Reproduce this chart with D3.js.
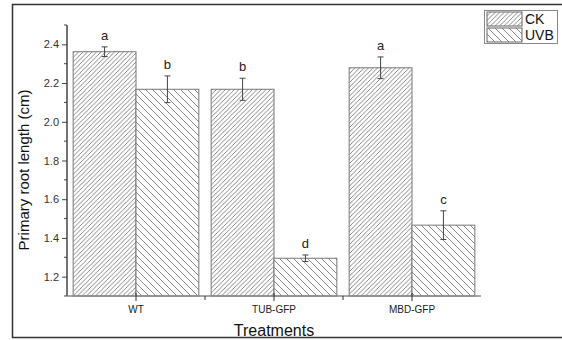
<!DOCTYPE html>
<html><head><meta charset="utf-8">
<script src="https://cdn.jsdelivr.net/npm/d3@7"></script>
<style>body{margin:0;background:#fff}svg{display:block;font-family:"Liberation Sans",Arial,sans-serif}</style>
</head><body><svg id="c" width="562" height="340"></svg>
<script>
const categories = ["WT", "TUB-GFP", "MBD-GFP"];
const series = ["CK", "UVB"];
const ckValues = [2.362, 2.168, 2.279];
const ckErrors = [0.025, 0.057, 0.056];
const uvbValues = [2.168, 1.295, 1.466];
const uvbErrors = [0.069, 0.017, 0.074];
const ckLetters = ["a", "b", "a"];
const uvbLetters = ["b", "d", "c"];
const yTicks = [1.2, 1.4, 1.6, 1.8, 2.0, 2.2, 2.4];
const yMinorTicks = [1.1, 1.3, 1.5, 1.7, 1.9, 2.1, 2.3, 2.5];

(function(){
const svg = d3.select("#c");
const defs = svg.append("defs");
function hatch(id, w, dir) {
  const p = defs.append("pattern").attr("id", id).attr("patternUnits", "userSpaceOnUse")
    .attr("width", w).attr("height", w);
  p.append("rect").attr("width", w).attr("height", w).attr("fill", "#fff");
  const d = dir > 0
    ? `M0,${w} L${w},0 M${-w/2},${w/2} L${w/2},${-w/2} M${w/2},${w*1.5} L${w*1.5},${w/2}`
    : `M0,0 L${w},${w} M${-w/2},${w/2} L${w/2},${w*1.5} M${w/2},${-w/2} L${w*1.5},${w/2}`;
  p.append("path").attr("d", d).attr("stroke", "#7a7a7a").attr("stroke-width", 0.9);
}
hatch("hCK", 4.5, 1);
hatch("hUVB", 7, -1);
const fills = {CK: "url(#hCK)", UVB: "url(#hUVB)"};

svg.append("rect").attr("x", 12.5).attr("y", 4.5).attr("width", 552).attr("height", 333)
  .attr("fill", "none").attr("stroke", "#333").attr("stroke-width", 1.5);

const pL = 67, pR = 481, pT = 25, pB = 296;
const x = d3.scaleBand().domain(categories).range([pL, pR]).paddingInner(0).paddingOuter(0);
const xs = d3.scaleBand().domain(series).range([0, x.bandwidth()]).paddingInner(0).paddingOuter(0.098);
const y = d3.scaleLinear().domain([1.1, 2.5]).range([pB, pT]);

const data = [];
categories.forEach((c, i) => {
  data.push({c, s: "CK", v: ckValues[i], e: ckErrors[i], l: ckLetters[i]});
  data.push({c, s: "UVB", v: uvbValues[i], e: uvbErrors[i], l: uvbLetters[i]});
});
const cx = d => x(d.c) + xs(d.s) + xs.bandwidth()/2;

const g = svg.append("g");
g.selectAll("rect.bar").data(data).join("rect").attr("class", "bar")
  .attr("x", d => x(d.c) + xs(d.s)).attr("width", xs.bandwidth())
  .attr("y", d => y(d.v)).attr("height", d => y(1.1) - y(d.v))
  .attr("fill", d => fills[d.s]).attr("stroke", "#777").attr("stroke-width", 1);

const eb = g.selectAll("g.eb").data(data).join("g").attr("class", "eb")
  .attr("stroke", "#444").attr("stroke-width", 1);
eb.append("line").attr("x1", cx).attr("x2", cx)
  .attr("y1", d => y(d.v + d.e)).attr("y2", d => y(d.v - d.e));
eb.append("line").attr("x1", d => cx(d) - 3).attr("x2", d => cx(d) + 3)
  .attr("y1", d => y(d.v + d.e)).attr("y2", d => y(d.v + d.e));
eb.append("line").attr("x1", d => cx(d) - 3).attr("x2", d => cx(d) + 3)
  .attr("y1", d => y(d.v - d.e)).attr("y2", d => y(d.v - d.e));

g.selectAll("text.lt").data(data).join("text").attr("class", "lt")
  .attr("x", cx).attr("y", d => y(d.v + d.e) - 7)
  .attr("text-anchor", "middle").attr("font-size", 13).attr("fill", "#222").text(d => d.l);

const yAxis = svg.append("g").attr("transform", `translate(${pL},0)`)
  .call(d3.axisLeft(y).tickValues(yTicks).tickFormat(d3.format(".1f")).tickSize(5).tickSizeOuter(0));
yAxis.select(".domain").attr("stroke", "#444").attr("stroke-width", 1.5).attr("d", `M0,${pT}V${pB}`);
yAxis.selectAll(".tick line").attr("stroke", "#444");
yAxis.selectAll(".tick text").attr("font-size", 11).attr("fill", "#333").attr("font-family", "Liberation Sans, Arial, sans-serif");
svg.append("g").attr("transform", `translate(${pL},0)`).selectAll("line").data(yMinorTicks).join("line")
  .attr("x1", -3).attr("x2", 0).attr("y1", d => y(d)).attr("y2", d => y(d)).attr("stroke", "#444");

const xAxisG = svg.append("g").attr("transform", `translate(0,${pB})`);
xAxisG.append("line").attr("x1", pL).attr("x2", pR).attr("stroke", "#888").attr("stroke-width", 1.5);
xAxisG.selectAll("line.t").data(categories).join("line").attr("class", "t")
  .attr("x1", d => x(d) + x.bandwidth()/2).attr("x2", d => x(d) + x.bandwidth()/2)
  .attr("y1", -3).attr("y2", 5).attr("stroke", "#333");
xAxisG.selectAll("line.m").data(categories.slice(1)).join("line").attr("class", "m")
  .attr("x1", d => x(d)).attr("x2", d => x(d)).attr("y1", 0).attr("y2", 4).attr("stroke", "#333");
xAxisG.selectAll("text").data(categories).join("text")
  .attr("x", d => x(d) + x.bandwidth()/2).attr("y", 17).attr("text-anchor", "middle")
  .attr("font-size", 10).attr("fill", "#222").text(d => d);

svg.append("text").attr("x", 274).attr("y", 336).attr("text-anchor", "middle")
  .attr("font-size", 16).attr("fill", "#111").text("Treatments");
svg.append("text").attr("transform", `translate(29,170) rotate(-90)`).attr("text-anchor", "middle")
  .attr("font-size", 15).attr("fill", "#111").text("Primary root length (cm)");

const lg = svg.append("g").attr("transform", "translate(484,10)");
lg.append("rect").attr("x", 0.5).attr("y", 0.5).attr("width", 73).attr("height", 33)
  .attr("fill", "#fff").attr("stroke", "#888");
series.forEach((s, i) => {
  lg.append("rect").attr("x", 3).attr("y", 2 + i * 16).attr("width", 35).attr("height", 14)
    .attr("fill", fills[s]).attr("stroke", "#666");
  lg.append("text").attr("x", 41).attr("y", 14 + i * 16).attr("font-size", 14).attr("fill", "#111").text(s);
});
})();
</script></body></html>
